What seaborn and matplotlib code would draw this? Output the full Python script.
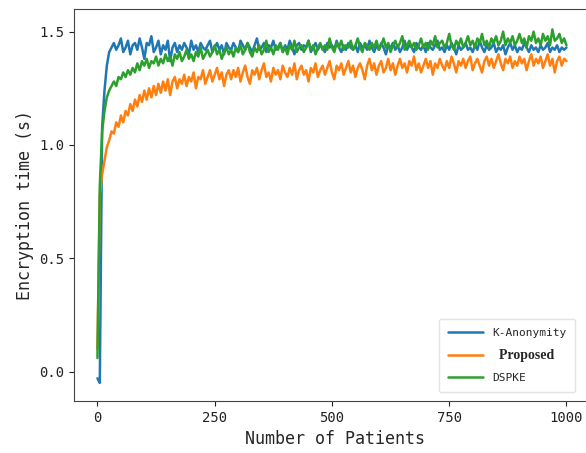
import numpy as np
import pandas as pd
import matplotlib
matplotlib.use("Agg")
import matplotlib.pyplot as plt
import seaborn as sns

# ------------------------------
# DATA (one value every 5 patients)
# ------------------------------
patients = np.arange(0, 1001, 5)

k_anonymity = [
    -0.03, -0.05, 1.08, 1.24, 1.35, 1.41, 1.43,
    1.45, 1.42, 1.44, 1.47, 1.41, 1.43, 1.46, 1.40, 1.44, 1.45,
    1.42, 1.47, 1.43, 1.38, 1.45, 1.44, 1.48, 1.41, 1.43, 1.46,
    1.40, 1.44, 1.42, 1.46, 1.37, 1.43, 1.45, 1.41, 1.44, 1.42,
    1.45, 1.43, 1.40, 1.46, 1.42, 1.44, 1.41, 1.45, 1.43, 1.42,
    1.44, 1.46, 1.41, 1.43, 1.45, 1.42, 1.44, 1.40, 1.45, 1.43,
    1.42, 1.45, 1.43, 1.41, 1.46, 1.44, 1.42, 1.45, 1.43, 1.41,
    1.44, 1.47, 1.42, 1.43, 1.45, 1.41, 1.44, 1.43, 1.46, 1.42,
    1.43, 1.45, 1.41, 1.44, 1.42, 1.46, 1.43, 1.40, 1.44, 1.45,
    1.42, 1.44, 1.43, 1.46, 1.41, 1.43, 1.45, 1.42, 1.44, 1.43,
    1.41, 1.45, 1.43, 1.44, 1.42, 1.46, 1.43, 1.41, 1.44, 1.42,
    1.45, 1.43, 1.42, 1.44, 1.41, 1.45, 1.43, 1.44, 1.42, 1.46,
    1.43, 1.41, 1.44, 1.42, 1.45, 1.43, 1.40, 1.44, 1.43, 1.45,
    1.42, 1.44, 1.41, 1.43, 1.46, 1.42, 1.44, 1.43, 1.41, 1.45,
    1.43, 1.42, 1.44, 1.41, 1.45, 1.43, 1.42, 1.44, 1.46, 1.42,
    1.43, 1.41, 1.44, 1.42, 1.45, 1.43, 1.40, 1.44, 1.42, 1.43,
    1.45, 1.42, 1.43, 1.41, 1.44, 1.42, 1.46, 1.43, 1.41, 1.44,
    1.42, 1.43, 1.45, 1.41, 1.43, 1.42, 1.44, 1.40, 1.43, 1.45,
    1.42, 1.44, 1.41, 1.43, 1.42, 1.45, 1.43, 1.41, 1.44, 1.42,
    1.43, 1.41, 1.44, 1.42, 1.43, 1.45, 1.41, 1.43, 1.42, 1.44,
    1.41, 1.43, 1.42, 1.43,
]

proposed = [
    0.10, 0.78, 0.87, 0.93, 0.99, 1.02, 1.06,
    1.05, 1.10, 1.08, 1.13, 1.10, 1.15, 1.13, 1.18, 1.15, 1.20,
    1.17, 1.22, 1.19, 1.24, 1.20, 1.25, 1.21, 1.26, 1.22, 1.27,
    1.23, 1.28, 1.24, 1.29, 1.22, 1.28, 1.30, 1.25, 1.29, 1.27,
    1.31, 1.26, 1.30, 1.28, 1.32, 1.25, 1.30, 1.29, 1.33, 1.27,
    1.30, 1.33, 1.28, 1.31, 1.34, 1.29, 1.32, 1.26, 1.31, 1.33,
    1.29, 1.33, 1.30, 1.34, 1.28, 1.32, 1.35, 1.30, 1.27, 1.33,
    1.31, 1.34, 1.29, 1.33, 1.36, 1.30, 1.32, 1.28, 1.34, 1.31,
    1.33, 1.29, 1.35, 1.32, 1.30, 1.34, 1.31, 1.36, 1.29, 1.33,
    1.35, 1.31, 1.33, 1.28, 1.34, 1.32, 1.36, 1.30, 1.33, 1.35,
    1.31, 1.34, 1.37, 1.32, 1.29, 1.35, 1.33, 1.36, 1.31, 1.34,
    1.37, 1.32, 1.35, 1.30, 1.34, 1.36, 1.33, 1.29, 1.35, 1.38,
    1.33, 1.36, 1.31, 1.35, 1.37, 1.32, 1.34, 1.38, 1.33, 1.36,
    1.31, 1.35, 1.38, 1.34, 1.36, 1.32, 1.37, 1.35, 1.39, 1.33,
    1.36, 1.32, 1.35, 1.38, 1.34, 1.37, 1.31, 1.36, 1.34, 1.38,
    1.35, 1.33, 1.37, 1.34, 1.39, 1.36, 1.32, 1.37, 1.35, 1.38,
    1.34, 1.37, 1.39, 1.33, 1.36, 1.38, 1.35, 1.32, 1.37, 1.39,
    1.35, 1.38, 1.34, 1.37, 1.40, 1.36, 1.33, 1.38, 1.36, 1.39,
    1.34, 1.37, 1.35, 1.39, 1.36, 1.38, 1.33, 1.37, 1.40, 1.35,
    1.38, 1.36, 1.39, 1.34, 1.37, 1.40, 1.35, 1.38, 1.32, 1.37,
    1.39, 1.35, 1.38, 1.37,
]

dspke = [
    0.06, 0.82, 1.06, 1.15, 1.21, 1.24, 1.26,
    1.28, 1.26, 1.30, 1.29, 1.32, 1.30, 1.33, 1.31, 1.34, 1.32,
    1.36, 1.33, 1.37, 1.35, 1.38, 1.34, 1.37, 1.36, 1.39, 1.35,
    1.38, 1.36, 1.40, 1.37, 1.39, 1.35, 1.40, 1.38, 1.41, 1.37,
    1.39, 1.42, 1.38, 1.40, 1.37, 1.41, 1.39, 1.43, 1.38, 1.40,
    1.42, 1.39, 1.41, 1.44, 1.40, 1.42, 1.38, 1.41, 1.43, 1.40,
    1.42, 1.39, 1.43, 1.41, 1.44, 1.40, 1.42, 1.45, 1.41, 1.39,
    1.43, 1.41, 1.44, 1.40, 1.42, 1.46, 1.41, 1.43, 1.40, 1.44,
    1.42, 1.45, 1.41, 1.43, 1.40, 1.44, 1.42, 1.46, 1.41, 1.43,
    1.44, 1.41, 1.43, 1.46, 1.42, 1.44, 1.40, 1.43, 1.45, 1.42,
    1.44, 1.42, 1.47, 1.43, 1.41, 1.45, 1.43, 1.46, 1.42, 1.44,
    1.43, 1.46, 1.42, 1.44, 1.47, 1.43, 1.41, 1.45, 1.44, 1.42,
    1.45, 1.43, 1.46, 1.42, 1.44, 1.47, 1.43, 1.45, 1.41, 1.44,
    1.46, 1.43, 1.45, 1.48, 1.42, 1.44, 1.46, 1.43, 1.45, 1.42,
    1.44, 1.47, 1.43, 1.45, 1.42, 1.46, 1.44, 1.48, 1.43, 1.45,
    1.46, 1.43, 1.45, 1.49, 1.44, 1.42, 1.46, 1.44, 1.47, 1.43,
    1.45, 1.48, 1.44, 1.46, 1.43, 1.47, 1.45, 1.49, 1.44, 1.46,
    1.43, 1.47, 1.45, 1.48, 1.44, 1.46, 1.50, 1.44, 1.47, 1.45,
    1.48, 1.44, 1.46, 1.49, 1.45, 1.47, 1.43, 1.48, 1.46, 1.50,
    1.45, 1.47, 1.44, 1.49, 1.46, 1.48, 1.44, 1.51, 1.46, 1.47,
    1.49, 1.45, 1.47, 1.44,
]

series_names = ["K-Anonymity", "Proposed", "DSPKE"]
legend_labels = ["K-Anonymity", "  Proposed", "DSPKE"]
x_ticks = [0, 250, 500, 750, 1000]
y_ticks = [0.0, 0.5, 1.0, 1.5]

# ------------------------------
# SETTINGS
# ------------------------------
sns.set_style("ticks")
plt.rcParams['font.family'] = ['DejaVu Sans Mono', 'DejaVu Sans']

df = pd.DataFrame({
    "Patients": np.concatenate([patients] * 3),
    "Time": np.concatenate([k_anonymity, proposed, dspke]),
    "Method": np.repeat(series_names, len(patients)),
})

fig = plt.figure(figsize=(5.86, 4.53), dpi=100)
# right edge of the axes sits just past the picture, as in the cropped original
ax = fig.add_axes([74 / 586, 52 / 453, 522 / 586, 392 / 453])

sns.lineplot(data=df, x="Patients", y="Time", hue="Method",
             hue_order=series_names, palette="tab10",
             estimator=None, linewidth=1.8, ax=ax)

ax.set_xlim(-50, 1063)
ax.set_ylim(-0.13, 1.60)
ax.set_xticks(x_ticks)
ax.set_yticks(y_ticks)
ax.set_yticklabels([f"{v:.1f}" for v in y_ticks])
ax.tick_params(labelsize=10, colors="#222222")
ax.set_xlabel("Number of Patients", fontsize=12)
ax.set_ylabel("Encryption time (s)", fontsize=12)
for s in ax.spines.values():
    s.set_color("#444444")

handles, _ = ax.get_legend_handles_labels()
leg = ax.legend(handles, legend_labels, loc="lower right",
                bbox_to_anchor=(0.96, 0.023), borderaxespad=0,
                fontsize=8, handlelength=3.2, labelspacing=1.0,
                borderpad=0.8, frameon=True)
leg.get_frame().set_edgecolor("#dddddd")
t = leg.get_texts()[1]
t.set_fontfamily("Liberation Serif")
t.set_fontweight("bold")
t.set_fontsize(10)

plt.savefig("out.png", dpi=100)
plt.close()
